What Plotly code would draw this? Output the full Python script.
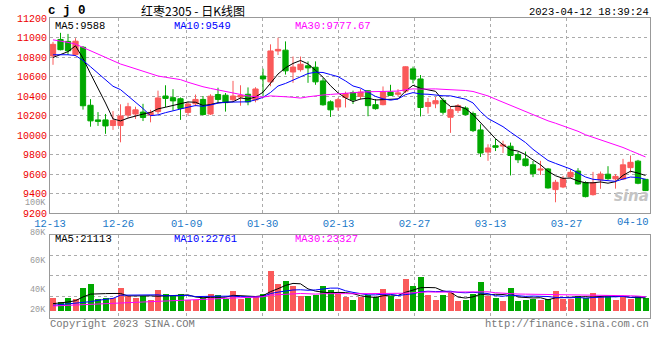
import plotly.graph_objects as go
import pandas as pd
import numpy as np

# ---------------- data ----------------
dates = ['12-13','12-14','12-15','12-16','12-19','12-20','12-21','12-22','12-23','12-26',
         '12-27','12-28','12-29','12-30',
         '01-03','01-04','01-05','01-06','01-09','01-10','01-11','01-12','01-13','01-16',
         '01-17','01-18','01-19','01-20','01-30','01-31',
         '02-01','02-02','02-03','02-06','02-07','02-08','02-09','02-10','02-13','02-14',
         '02-15','02-16','02-17','02-20','02-21','02-22','02-23','02-24','02-27','02-28',
         '03-01','03-02','03-03','03-06','03-07','03-08','03-09','03-10','03-13','03-14',
         '03-15','03-16','03-17','03-20','03-21','03-22','03-23','03-24','03-27','03-28',
         '03-29','03-30','03-31',
         '04-03','04-04','04-06','04-07','04-10','04-11','04-12']

open_ = [10810,10980,10960,10825,10900,10305,10155,10155,10097,10097,
         10204,10215,10235,10205,10240,10400,10383,10372,10232,10320,
         10365,10215,10415,10408,10362,10390,10418,10360,10605,10545,
         10862,10870,10646,10670,10710,10695,10555,10340,10287,10385,
         10435,10396,10454,10311,10311,10440,10418,10450,10678,10575,
         10293,10320,10355,10182,10253,10277,10220,10052,9825,9890,
         9886,9885,9800,9755,9695,9640,9652,9440,9467,9570,
         9630,9512,9388,9540,9598,9550,9548,9665,9732,9545]
high = [10955,11048,11037,10993,10912,10368,10235,10216,10245,10315,
        10330,10290,10320,10258,10455,10510,10470,10385,10340,10415,
        10400,10418,10485,10430,10555,10510,10488,10490,10680,10930,
        10998,10960,10805,10805,10755,10755,10585,10355,10380,10445,
        10455,10471,10460,10369,10498,10515,10470,10705,10702,10615,
        10380,10390,10379,10294,10318,10294,10240,10110,9905,9960,
        9942,9922,9825,9830,9733,9735,9662,9540,9580,9650,
        9660,9525,9622,9625,9680,9600,9755,9790,9745,9550]
low = [10720,10868,10823,10808,10260,10085,10093,10012,10052,9925,
       10175,10165,10143,10130,10215,10285,10250,10155,10200,10295,
       10200,10205,10330,10240,10340,10300,10305,10335,10400,10500,
       10820,10620,10535,10650,10535,10515,10300,10185,10250,10282,
       10318,10362,10192,10260,10304,10403,10395,10430,10530,10190,
       10220,10275,10209,10022,10226,10199,10030,9775,9735,9835,
       9815,9585,9712,9677,9568,9590,9450,9310,9455,9555,
       9490,9360,9378,9448,9540,9450,9538,9615,9495,9425]
close = [10930,10875,10864,10962,10300,10145,10140,10093,10148,10196,
         10290,10258,10180,10232,10380,10375,10350,10272,10318,10365,
         10210,10398,10365,10332,10400,10405,10340,10472,10575,10862,
         10878,10658,10697,10726,10688,10545,10310,10258,10362,10425,
         10360,10440,10301,10270,10440,10406,10432,10700,10573,10282,
         10334,10352,10233,10260,10301,10209,10045,9815,9867,9874,
         9898,9790,9746,9686,9603,9650,9457,9515,9553,9617,
         9498,9368,9510,9600,9552,9576,9694,9720,9505,9430]
volume = [21300,14700,21300,20200,37700,44200,19100,21300,21300,37700,
          24000,21300,24000,17500,34400,27900,24000,27900,17500,17500,
          21800,27900,25700,20200,32800,20200,21300,24000,27300,65500,
          44200,48600,40400,24000,24000,25700,40400,34900,27300,22400,
          17500,22900,25700,22900,35500,24000,19100,51900,40400,55200,
          25700,17500,25700,29500,15800,17500,27300,47000,24000,21300,
          15800,37100,16400,17500,20200,17500,20200,32200,20200,19100,
          24000,21800,28900,24000,25100,17500,25100,19100,25100,21300]

# moving-average values before enough closes are visible
ma5_head = [10795, 10823, 10855, 10915]
ma10_head = [10823, 10823, 10823, 10815, 10765, 10700, 10635, 10570, 10500]
ma30_head = [10976, 10965, 10950, 10932, 10898, 10857, 10823, 10789, 10755, 10728,
             10704, 10680, 10653, 10625, 10605, 10592, 10582, 10568, 10541, 10517,
             10495, 10478, 10462, 10448, 10425, 10412, 10400, 10393, 10388]
vma5_head = [12000, 13100, 14700, 16900]
vma10_head = [9300, 10400, 11500, 12000, 13100, 15300, 17500, 19100, 20700]
vma30_head = [8200, 8700, 9300, 9800, 10400, 10900, 11500, 12000, 12600, 13100,
              13700, 14200, 14700, 15300, 15800, 16400, 16900, 17500, 18000, 18600,
              19100, 19700, 20200, 20700, 21300, 21800, 22300, 22800, 23300]

tick_dates = ['12-13', '12-26', '01-09', '01-30', '02-13', '02-27', '03-13', '03-27']
last_tick_date = '04-10'
price_ticks = [9200, 9400, 9600, 9800, 10000, 10200, 10400, 10600, 10800, 11000, 11200]
vol_labels = ['100K', '80K', '60K', '40K', '20K']

title_code = 'c j 0'
title_name = '红枣2305 - 日K线图'
timestamp = '2023-04-12 18:39:24'
price_ma_text = ['MA5:9588', 'MA10:9549', 'MA30:9777.67']
vol_ma_text = ['MA5:21113', 'MA10:22761', 'MA30:23327']
footer_left = 'Copyright 2023 SINA.COM'
footer_right = 'http://finance.sina.com.cn'

# ---------------- styling ----------------
RED = '#fa5a5a'
GREEN = '#00a800'
MA_COLORS = ['#000000', '#0000ff', '#ff00ff']
GRID = '#ababab'
BORDER = '#999999'
MONO = 'Liberation Mono, DejaVu Sans Mono, monospace'
FS = 10.5
W, H = 660, 360
L, R, T, B = 50, 10, 18, 42
PW, PH = W - L - R, H - T - B


def px(x):
    return (x - L) / PW


def py(y):
    return (H - B - y) / PH


def moving(values, w, head):
    s = pd.Series(values, dtype=float).rolling(w).mean().to_numpy()
    s[:len(head)] = head
    return s


n = len(dates)
idx = list(range(n))
ma_price = [moving(close, 5, ma5_head), moving(close, 10, ma10_head), moving(close, 30, ma30_head)]
ma_vol = [moving(volume, 5, vma5_head), moving(volume, 10, vma10_head), moving(volume, 30, vma30_head)]
vol_colors = [RED if c > o else GREEN for o, c in zip(open_, close)]

slot = n / (n - 1)
tickvals = [dates.index(d) * slot - 0.4 for d in tick_dates]

fig = go.Figure()
fig.add_trace(go.Candlestick(
    x=idx, open=open_, high=high, low=low, close=close,
    increasing=dict(line=dict(color=RED, width=1), fillcolor=RED),
    decreasing=dict(line=dict(color=GREEN, width=1), fillcolor=GREEN),
    whiskerwidth=0, xaxis='x', yaxis='y', showlegend=False, hoverinfo='skip'))
for m, col in zip(ma_price, MA_COLORS):
    fig.add_trace(go.Scatter(x=idx, y=m, mode='lines', line=dict(color=col, width=1),
                             xaxis='x', yaxis='y', showlegend=False, hoverinfo='skip'))
fig.add_trace(go.Bar(x=idx, y=volume, width=0.8, marker=dict(color=vol_colors, line=dict(width=0)),
                     xaxis='x2', yaxis='y2', showlegend=False, hoverinfo='skip'))
for m, col in zip(ma_vol, MA_COLORS):
    fig.add_trace(go.Scatter(x=idx, y=m, mode='lines', line=dict(color=col, width=1),
                             xaxis='x2', yaxis='y2', showlegend=False, hoverinfo='skip'))

# volume axis: 0 at the bar base (y px 311), 1638 lots per pixel
vol_per_px = 1638
vol_range = [-(318 - 311) * vol_per_px, (311 - 235) * vol_per_px]
vol_grid = [(311 - yy) * vol_per_px for yy in (296, 275, 255)]

xcommon = dict(range=[-0.4, n - 0.4], tickvals=tickvals, showgrid=True, gridcolor=GRID,
               griddash='dot', gridwidth=1, zeroline=False, showline=True, linecolor=BORDER,
               linewidth=1, mirror=True, ticks='', fixedrange=True, automargin=False)
fig.update_layout(
    width=W, height=H, margin=dict(l=L, r=R, t=T, b=B, autoexpand=False),
    paper_bgcolor='white', plot_bgcolor='white', showlegend=False,
    boxgap=0.3, boxgroupgap=0, bargap=0,
    xaxis=dict(**xcommon, domain=[0, 1], anchor='y', ticktext=tick_dates,
               tickfont=dict(family=MONO, size=FS, color='#1a78c8'),
               rangeslider=dict(visible=False)),
    xaxis2=dict(**xcommon, domain=[0, 1], anchor='y2', matches='x', showticklabels=False),
    yaxis=dict(domain=[py(213), 1], range=[9200, 11200], tickvals=price_ticks,
               ticktext=[str(v) for v in price_ticks],
               tickfont=dict(family=MONO, size=10, color='#ee0000'),
               showgrid=True, gridcolor=GRID, griddash='dot', zeroline=False,
               showline=True, linecolor=BORDER, mirror=True, ticks='', fixedrange=True,
               automargin=False),
    yaxis2=dict(domain=[0, py(235)], range=vol_range, tickvals=vol_grid, showticklabels=False,
                showgrid=True, gridcolor=GRID, griddash='dot', zeroline=False,
                showline=True, linecolor=BORDER, mirror=True, ticks='', fixedrange=True,
                automargin=False),
)

ann = []


def text(x, y, s, color='#000', size=FS, anchor='left', family=MONO, **kw):
    ann.append(dict(x=px(x), y=py(y), xref='paper', yref='paper', text=s, showarrow=False,
                    xanchor=anchor, yanchor='middle', font=dict(family=family, size=size, color=color),
                    borderpad=0, **kw))


text(47, 11, '<b>' + title_code + '</b>', size=12.5)
text(140, 11, title_name, size=12, family='Noto Sans CJK SC, sans-serif')
text(650, 12, timestamp, size=FS, anchor='right')
for s, x, col in zip(price_ma_text, (54, 173, 294), MA_COLORS):
    text(x, 25.5, s, color=col)
for s, x, col in zip(vol_ma_text, (54, 173, 294), MA_COLORS):
    text(x, 239, s, color=col)
for s, y in zip(vol_labels, (203, 233, 261, 290, 310)):
    text(47, y, s, color='#999999', size=8.5, anchor='right')
text(650, 222, last_tick_date, color='#1a78c8', anchor='right')
text(49, 324, footer_left, color='#777777')
text(650, 324, footer_right, color='#777777', anchor='right')
text(650, 196, '<b><i>sina</i></b>', color='#c4c4c4', size=15, anchor='right',
     family='DejaVu Sans, sans-serif')
fig.update_layout(annotations=ann)

fig.write_html('out.html', config={'displayModeBar': False},
               post_script="document.body.style.margin='0';")
